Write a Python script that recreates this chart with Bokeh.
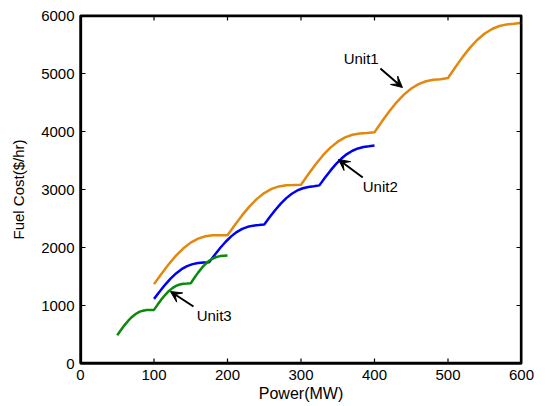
from bokeh.plotting import figure
from bokeh.models import Range1d, Label, Arrow, VeeHead, FixedTicker
from bokeh.embed import file_html
from bokeh.resources import INLINE

# ---- data ----
unit1_power = [100, 110, 120, 130, 140, 150, 160, 170, 180, 190, 200, 210, 220, 230, 240,
               250, 260, 270, 280, 290, 300, 310, 320, 330, 340, 350, 360, 370, 380, 390,
               400, 410, 420, 430, 440, 450, 460, 470, 480, 490, 500, 510, 520, 530, 540,
               550, 560, 570, 580, 590, 600]
unit1_cost = [1368.6, 1544.0, 1710.6, 1859.2, 1986.0, 2084.2, 2153.1, 2194.2, 2211.9, 2212.7,
              2210.0, 2388.4, 2557.8, 2709.9, 2838.2, 2938.6, 3009.8, 3053.5, 3073.8, 3077.3,
              3082.6, 3264.0, 3436.2, 3590.9, 3721.6, 3824.3, 3897.8, 3943.9, 3966.8, 3973.1,
              3986.5, 4170.9, 4345.7, 4503.0, 4636.1, 4741.2, 4817.0, 4865.7, 4891.0, 4900.1,
              4921.6, 5109.0, 5286.6, 5446.4, 5581.8, 5689.3, 5767.5, 5818.5, 5846.5, 5858.4,
              5875.0]

unit2_power = [100, 107.5, 115, 122.5, 130, 137.5, 145, 152.5, 160, 167.5, 175, 182.5, 190,
               197.5, 205, 212.5, 220, 227.5, 235, 242.5, 250, 257.5, 265, 272.5, 280, 287.5,
               295, 302.5, 310, 317.5, 325, 332.5, 340, 347.5, 355, 362.5, 370, 377.5, 385,
               392.5, 400]
unit2_cost = [1114.4, 1238.3, 1356.2, 1462.8, 1553.7, 1626.1, 1678.9, 1713.3, 1732.2, 1739.7,
              1744.9, 1870.8, 1990.7, 2099.2, 2191.8, 2265.7, 2320.2, 2356.4, 2377.0, 2386.5,
              2397.2, 2525.2, 2647.0, 2757.3, 2851.5, 2927.2, 2983.4, 3021.3, 3043.6, 3055.1,
              3071.2, 3201.3, 3325.1, 3437.2, 3533.1, 3610.5, 3668.3, 3707.9, 3732.1, 3745.5,
              3760.0]

unit3_power = [50, 55, 60, 65, 70, 75, 80, 85, 90, 95, 100, 105, 110, 115, 120, 125, 130,
               135, 140, 145, 150, 155, 160, 165, 170, 175, 180, 185, 190, 195, 200]
unit3_cost = [488.6, 577.4, 662.0, 738.0, 802.3, 852.9, 888.9, 911.1, 921.6, 924.0, 924.5,
              1015.7, 1102.4, 1180.7, 1247.0, 1299.6, 1337.6, 1361.9, 1374.6, 1379.1, 1384.5,
              1478.1, 1567.0, 1647.4, 1715.8, 1770.4, 1810.4, 1836.7, 1851.6, 1858.3, 1864.0]

x_ticks = [0, 100, 200, 300, 400, 500, 600]
y_ticks = [0, 1000, 2000, 3000, 4000, 5000, 6000]

series_names = ["Unit1", "Unit2", "Unit3"]
series_colors = ["#E3880F", "#0000F5", "#0A8A0A"]

# annotation anchors (label position, arrow tail, arrow head) in data units
label_pos = [(358, 5259), (384, 3052), (158, 819)]
arrow_tail = [(408, 5086), (384, 3207), (153.7, 983)]
arrow_head = [(438, 4759), (351, 3517), (122.4, 1241)]

x_label = "Power(MW)"
y_label = "Fuel Cost($/hr)"

FONT = "Liberation Sans"
X0, X1 = x_ticks[0], x_ticks[-1]
Y0, Y1 = y_ticks[0], y_ticks[-1]
BL, BR, BT, BB = 80, 25, 15, 43
W, H = 546, 406
FW, FH = W - BL - BR, H - BT - BB          # frame size in px
ux = (X1 - X0) / FW                          # data units per px
uy = (Y1 - Y0) / FH

p = figure(width=W, height=H, x_range=Range1d(X0, X1), y_range=Range1d(Y0, Y1),
           output_backend="svg", toolbar_location=None,
           min_border_left=BL, min_border_right=BR, min_border_top=BT, min_border_bottom=BB)
p.background_fill_color = "white"
p.border_fill_color = "white"
p.outline_line_color = "black"
p.outline_line_width = 2
p.grid.visible = False

for ax, ticks in ((p.xaxis[0], x_ticks), (p.yaxis[0], y_ticks)):
    ax.ticker = FixedTicker(ticks=ticks)
    ax.axis_line_width = 2
    ax.axis_line_color = "black"
    ax.major_tick_in = 0
    ax.major_tick_out = 0
    ax.minor_tick_line_color = None
    ax.major_label_text_font = FONT
    ax.major_label_text_font_size = "15px"
    ax.major_label_text_color = "black"
    ax.major_label_standoff = 6
    ax.axis_label_text_font = FONT
    ax.axis_label_text_font_style = "normal"
    ax.axis_label_text_color = "black"

p.xaxis[0].axis_label = x_label
p.xaxis[0].axis_label_text_font_size = "16px"
p.xaxis[0].axis_label_standoff = 2
p.yaxis[0].axis_label = y_label
p.yaxis[0].axis_label_text_font_size = "15px"
p.yaxis[0].axis_label_standoff = 11

for xs, ys, c in ((unit1_power, unit1_cost, series_colors[0]),
                  (unit2_power, unit2_cost, series_colors[1]),
                  (unit3_power, unit3_cost, series_colors[2])):
    p.line(xs, ys, line_color=c, line_width=2.5)

# frame box: one closed polyline just inside the frame (top and right edges)
ex, ey = 0.75 * ux, 0.75 * uy
p.line([X0 + ex, X1 - ex, X1 - ex, X0 + ex, X0 + ex],
       [Y1 - ey, Y1 - ey, Y0 + ey, Y0 + ey, Y1 - ey],
       line_color="black", line_width=1.8)

# inward tick marks on all four sides
tl = 5
tick_xs, tick_ys = [], []
for t in x_ticks:
    tick_xs += [[t, t], [t, t]]
    tick_ys += [[Y0, Y0 + tl * uy], [Y1, Y1 - tl * uy]]
for t in y_ticks:
    tick_xs += [[X0, X0 + tl * ux], [X1, X1 - tl * ux]]
    tick_ys += [[t, t], [t, t]]
p.multi_line(tick_xs, tick_ys, line_color="black", line_width=1.2)

for name, (lx, ly), (tx, ty), (hx, hy) in zip(series_names, label_pos, arrow_tail, arrow_head):
    p.add_layout(Arrow(x_start=tx, y_start=ty, x_end=hx, y_end=hy, line_width=2,
                       line_color="black",
                       end=VeeHead(size=11, fill_color="black", line_color="black")))
    p.add_layout(Label(x=lx, y=ly, text=name, text_font=FONT, text_font_size="15px",
                       text_baseline="middle", text_align="left", text_color="black"))

open("out.html", "w").write(file_html(p, INLINE))
